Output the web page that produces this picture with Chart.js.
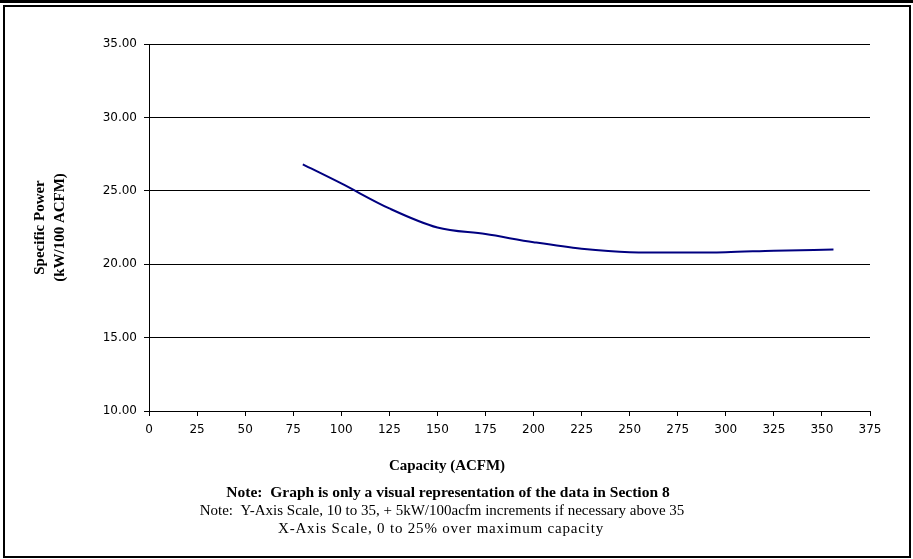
<!DOCTYPE html>
<html>
<head>
<meta charset="utf-8">
<script src="https://cdn.jsdelivr.net/npm/chart.js@4/dist/chart.umd.min.js"></script>
<style>
  body { margin: 0; background: #fff; }
  #wrap { position: relative; width: 913px; height: 559px; overflow: hidden; }
  #topbar { position: absolute; left: 0; top: 0; width: 913px; height: 3px; background: #000; }
  #frame { position: absolute; left: 3px; top: 5px; width: 904px; height: 549px; border: 2px solid #000; }
  canvas { position: absolute; left: 0; top: 0; }
</style>
</head>
<body>
<div id="wrap">
  <div id="topbar"></div>
  <div id="frame"></div>
  <canvas id="chart" width="913" height="559"></canvas>
</div>
<script>
// capacity (ACFM) and specific power (kW/100 ACFM)
const capacity = [80, 100, 125, 150, 175, 200, 225, 250, 275, 300, 325, 356];
const specificPower = [26.8, 25.5, 23.8, 22.5, 22.05, 21.5, 21.05, 20.82, 20.8, 20.82, 20.92, 21.0];

const xTicks = [0, 25, 50, 75, 100, 125, 150, 175, 200, 225, 250, 275, 300, 325, 350, 375];
const yTicks = [10, 15, 20, 25, 30, 35];

const xTitle = "Capacity (ACFM)";
const yTitle = ["Specific Power", "(kW/100 ACFM)"];
const noteBold = "Note:  Graph is only a visual representation of the data in Section 8";
const noteLines = [
  "Note:  Y-Axis Scale, 10 to 35, + 5kW/100acfm increments if necessary above 35",
  "X-Axis Scale, 0 to 25% over maximum capacity"
];

const points = capacity.map((c, i) => ({ x: c, y: specificPower[i] }));

// notes under the chart, centred on the frame like the original sheet
const notesPlugin = {
  id: "notes",
  afterDraw(chart) {
    const ctx = chart.ctx;
    ctx.save();
    ctx.fillStyle = "#000";
    ctx.textAlign = "center";
    ctx.textBaseline = "middle";
    ctx.font = "bold 15px 'Liberation Serif'";
    ctx.fillText(xTitle, 447, 466);
    ctx.font = "bold 15.5px 'Liberation Serif'";
    ctx.fillText(noteBold, 448, 493);
    ctx.font = "15px 'Liberation Serif'";
    ctx.fillText(noteLines[0], 442, 511);
    ctx.letterSpacing = "0.8px";
    ctx.fillText(noteLines[1], 441, 529);
    ctx.restore();
  }
};

const ctx = document.getElementById("chart").getContext("2d");
new Chart(ctx, {
  type: "line",
  data: {
    datasets: [{
      data: points,
      borderColor: "#000080",
      borderWidth: 2,
      pointRadius: 0,
      fill: false,
      cubicInterpolationMode: "monotone"
    }]
  },
  options: {
    responsive: false,
    animation: false,
    devicePixelRatio: 1,
    layout: { padding: { left: 20, top: 44, right: 43, bottom: 0 } },
    plugins: {
      legend: { display: false },
      tooltip: { enabled: false }
    },
    scales: {
      x: {
        type: "linear",
        min: 0,
        max: 375,
        afterBuildTicks: (scale) => { scale.ticks = xTicks.map(v => ({ value: v })); },
        afterFit: (scale) => { scale.height = 148; },
        ticks: {
          color: "#000",
          padding: 7,
          maxRotation: 0,
          autoSkip: false,
          font: { family: "'DejaVu Sans'", size: 12 }
        },
        grid: { drawOnChartArea: false, drawTicks: true, tickLength: 5, color: "#000", tickColor: "#000" },
        border: { display: true, color: "#000", width: 1 }
      },
      y: {
        min: 10,
        max: 35,
        afterBuildTicks: (scale) => { scale.ticks = yTicks.map(v => ({ value: v })); },
        afterFit: (scale) => { scale.width = 129; },
        ticks: {
          color: "#000",
          padding: 7,
          font: { family: "'DejaVu Sans'", size: 12 },
          callback: (v) => Number(v).toFixed(2)
        },
        grid: { color: "#000", lineWidth: 1, drawTicks: true, tickLength: 5, tickColor: "#000" },
        border: { display: true, color: "#000", width: 1 },
        title: {
          display: true,
          text: yTitle,
          color: "#000",
          padding: { top: 10 },
          font: { family: "'Liberation Serif'", size: 15, weight: "bold", lineHeight: 1.35 }
        }
      }
    }
  },
  plugins: [notesPlugin]
});
</script>
</body>
</html>
